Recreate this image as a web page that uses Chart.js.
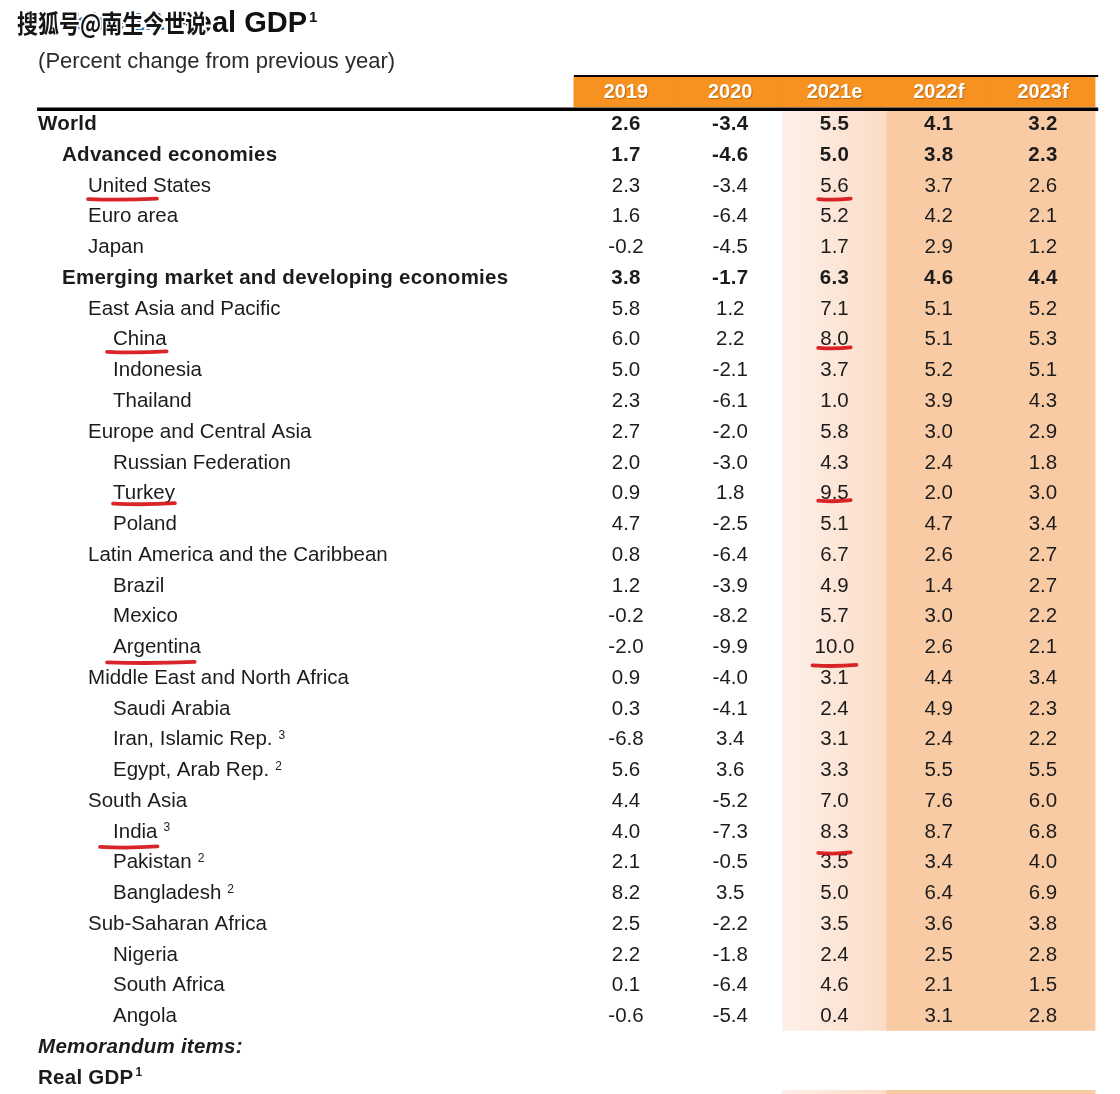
<!DOCTYPE html>
<html>
<head>
<meta charset="utf-8">
<script src="https://cdn.jsdelivr.net/npm/chart.js@4/dist/chart.umd.min.js"></script>
<style>
  html, body { margin: 0; padding: 0; background: #ffffff; }
  #gdpTable { display: block; }
</style>
</head>
<body>
<canvas id="gdpTable" width="1120" height="1094"></canvas>
<script>
// rows of the table
var rowLabels = [
    'World', 'Advanced economies', 'United States', 'Euro area', 'Japan',
    'Emerging market and developing economies', 'East Asia and Pacific', 'China', 'Indonesia', 'Thailand',
    'Europe and Central Asia', 'Russian Federation', 'Turkey', 'Poland',
    'Latin America and the Caribbean', 'Brazil', 'Mexico', 'Argentina',
    'Middle East and North Africa', 'Saudi Arabia', 'Iran, Islamic Rep.', 'Egypt, Arab Rep.',
    'South Asia', 'India', 'Pakistan', 'Bangladesh',
    'Sub-Saharan Africa', 'Nigeria', 'South Africa', 'Angola'
];
var rowLevels = [0, 1, 2, 2, 2, 1, 2, 3, 3, 3, 2, 3, 3, 3, 2, 3, 3, 3, 2, 3, 3, 3, 2, 3, 3, 3, 2, 3, 3, 3];
var rowNotes = ['', '', '', '', '', '', '', '', '', '', '', '', '', '', '', '', '', '', '', '', '3', '2', '', '3', '2', '2', '', '', '', ''];

var yearLabels = ['2019', '2020', '2021e', '2022f', '2023f'];

var gdp2019 = [2.6, 1.7, 2.3, 1.6, -0.2, 3.8, 5.8, 6.0, 5.0, 2.3, 2.7, 2.0, 0.9, 4.7, 0.8, 1.2, -0.2, -2.0, 0.9, 0.3, -6.8, 5.6, 4.4, 4.0, 2.1, 8.2, 2.5, 2.2, 0.1, -0.6];
var gdp2020 = [-3.4, -4.6, -3.4, -6.4, -4.5, -1.7, 1.2, 2.2, -2.1, -6.1, -2.0, -3.0, 1.8, -2.5, -6.4, -3.9, -8.2, -9.9, -4.0, -4.1, 3.4, 3.6, -5.2, -7.3, -0.5, 3.5, -2.2, -1.8, -6.4, -5.4];
var gdp2021 = [5.5, 5.0, 5.6, 5.2, 1.7, 6.3, 7.1, 8.0, 3.7, 1.0, 5.8, 4.3, 9.5, 5.1, 6.7, 4.9, 5.7, 10.0, 3.1, 2.4, 3.1, 3.3, 7.0, 8.3, 3.5, 5.0, 3.5, 2.4, 4.6, 0.4];
var gdp2022 = [4.1, 3.8, 3.7, 4.2, 2.9, 4.6, 5.1, 5.1, 5.2, 3.9, 3.0, 2.4, 2.0, 4.7, 2.6, 1.4, 3.0, 2.6, 4.4, 4.9, 2.4, 5.5, 7.6, 8.7, 3.4, 6.4, 3.6, 2.5, 2.1, 3.1];
var gdp2023 = [3.2, 2.3, 2.6, 2.1, 1.2, 4.4, 5.2, 5.3, 5.1, 4.3, 2.9, 1.8, 3.0, 3.4, 2.7, 2.7, 2.2, 2.1, 3.4, 2.3, 2.2, 5.5, 6.0, 6.8, 4.0, 6.9, 3.8, 2.8, 1.5, 2.8];

// hand drawn red underlines: [row, share of label covered, start shift, label dy, value dy]
var redMarks = [
    [2, 0.56, 0, 13, 13],
    [7, 1.0, -6, 12, 8],
    [12, 1.0, 0, 10, 7],
    [17, 0.93, -6, 15, 18],
    [23, 1.0, -13, 15, 21]
];

(function () {
    var canvas = document.getElementById('gdpTable');
    var columns = [gdp2019, gdp2020, gdp2021, gdp2022, gdp2023];
    var FONT = '"Liberation Sans", Arial, sans-serif';
    var TEXT = '#1c1c1c';
    var SIZE = '20.5px ';
    var labelStart = -5.64;
    var indents = [0, 24, 50, 75];
    var textShift = 1.5;
    var memoRows = [rowLabels.length, rowLabels.length + 1];

    var headerBars = yearLabels.map(function (y, i) {
        return { x: i, y: [-1.5, -0.52] };
    });
    var shadeBars = [
        { x: 2, y: [-0.45, 29.5] }, { x: 3, y: [-0.45, 29.5] }, { x: 4, y: [-0.45, 29.5] },
        { x: 2, y: [31.45, 31.6] }, { x: 3, y: [31.45, 31.6] }, { x: 4, y: [31.45, 31.6] }
    ];

    function shadeColor(context) {
        var chart = context.chart;
        var raw = context.raw;
        if (!raw || !chart.chartArea) return '#f9cba4';
        if (raw.x !== 2) return '#f9cba4';
        var xs = chart.scales.x;
        var g = chart.ctx.createLinearGradient(xs.getPixelForValue(1.5), 0, xs.getPixelForValue(2.5), 0);
        g.addColorStop(0, '#fdf1ea');
        g.addColorStop(1, '#fbdcc6');
        return g;
    }

    function setFont(ctx, bold) {
        ctx.font = (bold ? 'bold ' : '') + SIZE + FONT;
        ctx.letterSpacing = bold ? '0.25px' : '0px';
    }

    function underline(ctx, x1, x2, y) {
        ctx.beginPath();
        ctx.moveTo(x1, y);
        ctx.quadraticCurveTo((x1 + x2) / 2, y + 1.5, x2, y - 0.5);
        ctx.stroke();
    }

    var tablePlugin = {
        id: 'tableText',
        afterDatasetsDraw: function (chart) {
            var ctx = chart.ctx;
            var xs = chart.scales.x;
            var ys = chart.scales.y;
            var left = xs.getPixelForValue(labelStart);
            ctx.save();
            ctx.textBaseline = 'middle';

            // title block
            ctx.textAlign = 'right';
            ctx.font = 'bold 29px ' + FONT;
            ctx.fillStyle = '#111';
            var titleY = ys.getPixelForValue(-3.3) + 2;
            ctx.fillText('Real GDP', 307, titleY);
            var realW = ctx.measureText('Real GDP').width;
            ctx.fillStyle = '#3a78b8';
            ctx.font = 'bold 24px ' + FONT;
            ctx.fillText('Table 1.1', 307 - realW - 10, titleY);
            ctx.textAlign = 'left';
            ctx.fillStyle = '#111';
            ctx.font = 'bold 15px ' + FONT;
            ctx.fillText('1', 309, titleY - 6);

            ctx.font = '22px ' + FONT;
            ctx.fillStyle = '#2a2a2a';
            ctx.fillText('(Percent change from previous year)', left, ys.getPixelForValue(-2.05) + textShift);

            // watermark
            ctx.save();
            ctx.translate(17, titleY);
            ctx.scale(0.84, 1);
            ctx.font = 'bold 25px "Noto Sans CJK SC", sans-serif';
            ctx.lineJoin = 'round';
            ctx.lineWidth = 4;
            ctx.strokeStyle = '#ffffff';
            ctx.strokeText('搜狐号@南生今世说', 0, 0);
            ctx.fillStyle = '#151515';
            ctx.fillText('搜狐号@南生今世说', 0, 0);
            ctx.restore();

            // header rules
            ctx.strokeStyle = '#000';
            ctx.lineWidth = 2;
            ctx.beginPath();
            ctx.moveTo(xs.getPixelForValue(-0.5), ys.getPixelForValue(-1.53));
            ctx.lineTo(xs.getPixelForValue(4.53), ys.getPixelForValue(-1.53));
            ctx.stroke();
            ctx.lineWidth = 3.5;
            ctx.beginPath();
            ctx.moveTo(left - 1, ys.getPixelForValue(-0.45));
            ctx.lineTo(xs.getPixelForValue(4.53), ys.getPixelForValue(-0.45));
            ctx.stroke();

            // header years
            ctx.textAlign = 'center';
            ctx.font = 'bold 20px ' + FONT;
            yearLabels.forEach(function (label, i) {
                var px = xs.getPixelForValue(i);
                var py = ys.getPixelForValue(-1.02) + 1;
                ctx.fillStyle = 'rgba(120, 60, 0, 0.45)';
                ctx.fillText(label, px + 1, py + 1);
                ctx.fillStyle = '#ffffff';
                ctx.fillText(label, px, py);
            });

            // body rows
            rowLabels.forEach(function (label, r) {
                var py = ys.getPixelForValue(r) + textShift;
                var bold = rowLevels[r] < 2;
                ctx.fillStyle = TEXT;
                ctx.textAlign = 'left';
                setFont(ctx, bold);
                var lx = left + indents[rowLevels[r]];
                ctx.fillText(label, lx, py);
                if (rowNotes[r]) {
                    var w = ctx.measureText(label).width;
                    ctx.font = '12px ' + FONT;
                    ctx.fillText(rowNotes[r], lx + w + 6, py - 4);
                    setFont(ctx, bold);
                }
                ctx.textAlign = 'center';
                columns.forEach(function (col, c) {
                    ctx.fillText(col[r].toFixed(1), xs.getPixelForValue(c), py);
                });
            });

            // memorandum rows
            ctx.textAlign = 'left';
            ctx.fillStyle = TEXT;
            ctx.font = 'italic bold ' + SIZE + FONT;
            ctx.letterSpacing = '0.25px';
            ctx.fillText('Memorandum items:', left, ys.getPixelForValue(memoRows[0]) + textShift);
            setFont(ctx, true);
            var memoY = ys.getPixelForValue(memoRows[1]) + textShift;
            ctx.fillText('Real GDP', left, memoY);
            var mw = ctx.measureText('Real GDP').width;
            ctx.font = 'bold 12px ' + FONT;
            ctx.fillText('1', left + mw + 2, memoY - 5);

            // red hand marks
            ctx.strokeStyle = 'rgba(214, 18, 24, 0.92)';
            ctx.lineWidth = 3.8;
            ctx.lineCap = 'round';
            redMarks.forEach(function (m) {
                var r = m[0];
                var py = ys.getPixelForValue(r) + textShift;
                setFont(ctx, false);
                var lx = left + indents[rowLevels[r]];
                var lw = ctx.measureText(rowLabels[r]).width;
                underline(ctx, lx + m[2], lx + lw * m[1], py + m[3]);
                var vx = xs.getPixelForValue(2);
                var vw = ctx.measureText(gdp2021[r].toFixed(1)).width;
                underline(ctx, vx - vw / 2 - 2, vx + vw / 2 + 2, py + m[4]);
            });
            ctx.restore();
        }
    };

    new Chart(canvas.getContext('2d'), {
        type: 'bar',
        data: {
            datasets: [
                {
                    label: 'shade',
                    data: shadeBars,
                    backgroundColor: shadeColor,
                    borderWidth: 0,
                    grouped: false,
                    barPercentage: 1,
                    categoryPercentage: 1
                },
                {
                    label: 'header',
                    data: headerBars,
                    backgroundColor: '#f7911f',
                    borderWidth: 0,
                    grouped: false,
                    barPercentage: 1,
                    categoryPercentage: 1
                }
            ]
        },
        options: {
            responsive: false,
            animation: false,
            layout: { padding: 0 },
            plugins: {
                legend: { display: false },
                tooltip: { enabled: false }
            },
            scales: {
                x: {
                    type: 'linear',
                    display: false,
                    offset: false,
                    min: -6.005,
                    max: 4.739,
                    ticks: { stepSize: 1, includeBounds: false }
                },
                y: {
                    type: 'linear',
                    display: false,
                    reverse: true,
                    min: -4,
                    max: 31.57,
                    ticks: { stepSize: 1, includeBounds: false }
                }
            }
        },
        plugins: [tablePlugin]
    });
})();
</script>
</body>
</html>
